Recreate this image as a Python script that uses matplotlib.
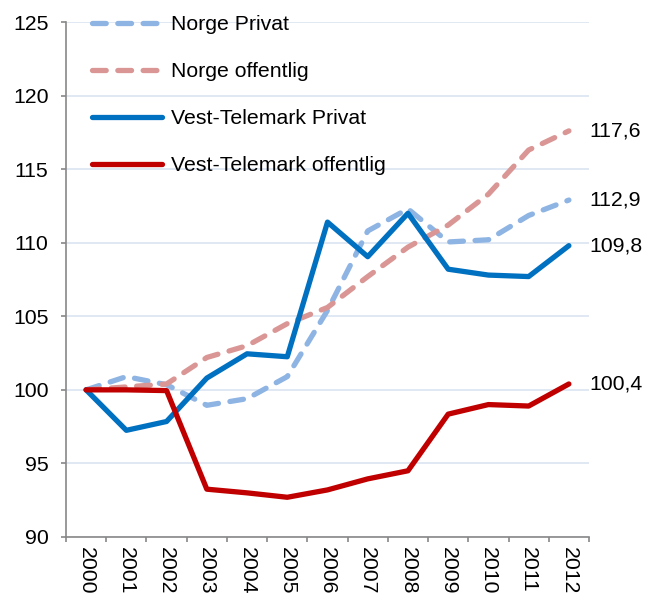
import numpy as np
import matplotlib
matplotlib.use("Agg")
import matplotlib.pyplot as plt

plt.rcParams['font.family'] = ['Liberation Sans', 'DejaVu Sans']

years = ['2000', '2001', '2002', '2003', '2004', '2005', '2006',
         '2007', '2008', '2009', '2010', '2011', '2012']
norge_privat = [100, 100.9, 100.35, 98.95, 99.4, 100.9, 105.4,
                110.8, 112.3, 110.05, 110.2, 111.85, 112.9]
norge_offentlig = [100, 100.2, 100.4, 102.2, 103.0, 104.5, 105.6,
                   107.7, 109.7, 111.2, 113.3, 116.3, 117.6]
vt_privat = [100, 97.25, 97.85, 100.8, 102.45, 102.25, 111.4,
             109.05, 112.0, 108.2, 107.8, 107.7, 109.8]
vt_offentlig = [100, 100.0, 99.95, 93.25, 93.0, 92.7, 93.2,
                93.95, 94.5, 98.35, 99.0, 98.9, 100.4]
end_labels = ['117,6', '112,9', '109,8', '100,4']

fig = plt.figure(figsize=(6.45, 5.93), dpi=100)
ax = fig.add_axes([66/645, 1-537/593, (589-66)/645, (537-22)/593])

x = np.arange(len(years))
fs = 15.3
dash = (0, (2.6, 2.2))

ax.plot(x, norge_privat, color='#8EB4E3', lw=3.8, ls=dash,
        dash_capstyle='round', label='Norge Privat')
ax.plot(x, norge_offentlig, color='#D99694', lw=3.8, ls=dash,
        dash_capstyle='round', label='Norge offentlig')
ax.plot(x, vt_privat, color='#0070C0', lw=3.8, solid_capstyle='round',
        label='Vest-Telemark Privat')
ax.plot(x, vt_offentlig, color='#C00000', lw=3.8, solid_capstyle='round',
        label='Vest-Telemark offentlig')

for series, lab in zip([norge_offentlig, norge_privat, vt_privat, vt_offentlig], end_labels):
    ax.annotate(lab, (x[-1], series[-1]), xytext=(15, 0), textcoords='offset points',
                va='center', ha='left', fontsize=fs, annotation_clip=False)

ax.set_ylim(90, 125)
ax.set_xlim(-0.5, len(years) - 0.5)
ax.set_yticks(np.arange(90, 126, 5))
ax.yaxis.grid(True, color='#DCE6F2', lw=1.3)
ax.set_axisbelow(True)

ax.set_xticks(x)
ax.set_xticklabels(years, rotation=270, fontsize=fs)
ax.set_xticks(np.arange(-0.5, len(years)), minor=True)
ax.tick_params(axis='x', which='major', length=0, pad=7.5)
ax.tick_params(axis='x', which='minor', length=3.6, color='#888888', width=1.2)
ax.tick_params(axis='y', length=3.6, color='#888888', width=1.2, labelsize=fs, pad=9)

for s in ['top', 'right']:
    ax.spines[s].set_visible(False)
for s in ['left', 'bottom']:
    ax.spines[s].set_color('#888888')
    ax.spines[s].set_linewidth(1.2)

ax.legend(loc='upper left', bbox_to_anchor=(92/645, 1-15/593), bbox_transform=fig.transFigure,
          frameon=False, fontsize=fs, handlelength=3.3, handletextpad=0.4,
          labelspacing=1.32, borderpad=0, borderaxespad=0)

fig.savefig('out.png', dpi=100)
